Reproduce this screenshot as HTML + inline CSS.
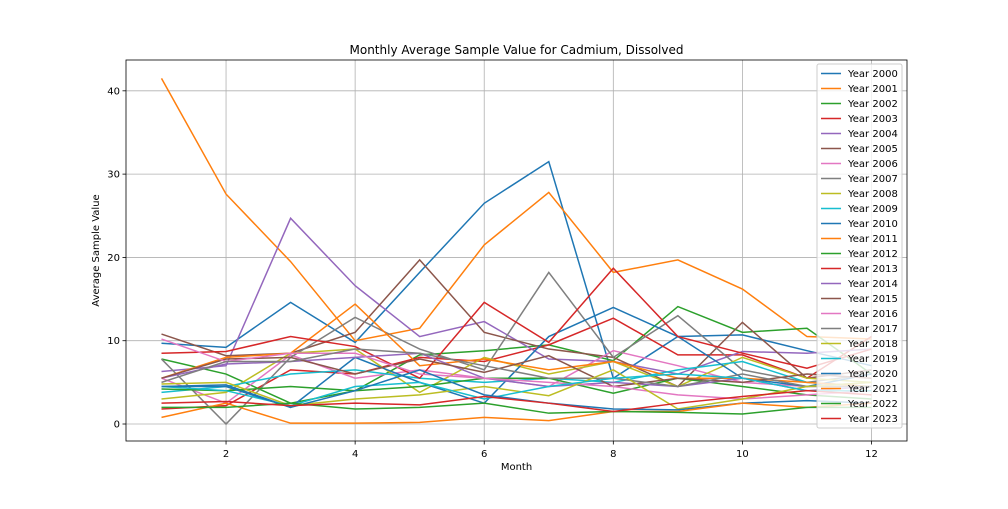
<!DOCTYPE html>
<html><head><meta charset="utf-8"><style>
body{margin:0;background:#fff;font-family:"Liberation Sans","DejaVu Sans",sans-serif}
svg text{font-family:"DejaVu Sans","Liberation Sans",sans-serif}
</style></head><body>
<svg id="c" width="1008" height="504"></svg>
<script>
const months=[1,2,3,4,5,6,7,8,9,10,11,12];
const years=["Year 2000","Year 2001","Year 2002","Year 2003","Year 2004","Year 2005","Year 2006","Year 2007","Year 2008","Year 2009","Year 2010","Year 2011","Year 2012","Year 2013","Year 2014","Year 2015","Year 2016","Year 2017","Year 2018","Year 2019","Year 2020","Year 2021","Year 2022","Year 2023"];
const s2000=[9.7,9.2,14.6,9.8,18.2,26.5,31.5,5.5,10.5,10.7,8.8,7.0];
const s2001=[41.5,27.6,19.5,10.0,11.5,21.5,27.8,18.2,19.7,16.2,10.5,10.2];
const s2002=[7.8,6.0,2.5,4.0,8.3,8.8,9.5,7.6,14.1,11.0,11.5,6.0];
const s2003=[1.8,2.2,6.5,6.0,8.0,7.5,9.5,12.7,8.3,8.3,5.5,10.5];
const s2004=[6.3,7.0,24.7,16.6,10.5,12.3,7.8,7.5,6.0,8.7,8.5,9.0];
const s2005=[10.8,8.2,8.5,11.0,19.7,11.0,9.0,8.0,4.5,12.2,5.5,6.5];
const s2006=[5.5,2.5,8.3,5.5,6.5,5.5,4.5,8.8,7.0,5.0,4.5,5.0];
const s2007=[7.8,0.0,8.0,12.8,9.0,6.5,18.2,8.0,13.0,6.5,5.0,6.0];
const s2008=[3.0,3.8,8.5,9.0,3.8,8.0,6.0,7.5,4.5,8.0,5.5,5.0];
const s2009=[3.8,4.5,6.0,6.5,5.5,5.0,5.5,5.0,6.5,7.5,5.0,4.5];
const s2010=[4.5,4.7,2.0,8.0,5.0,2.5,10.5,14.0,10.5,5.5,4.5,6.0];
const s2011=[5.5,8.0,8.5,14.4,7.0,7.8,6.5,7.5,5.5,5.5,5.0,4.5];
const s2012=[4.2,4.0,4.5,4.0,4.5,5.5,5.5,3.7,5.5,4.5,3.5,3.0];
const s2013=[8.5,8.7,10.5,9.3,5.5,14.6,9.8,18.7,10.5,8.5,6.7,9.0];
const s2014=[5.5,7.2,7.5,8.0,8.5,5.5,4.5,5.0,4.5,5.5,4.0,4.5];
const s2015=[5.5,7.8,8.0,6.0,7.8,6.2,8.2,4.5,5.5,5.0,6.0,5.5];
const s2016=[10.2,7.5,8.5,8.5,6.0,5.5,5.0,4.5,3.5,3.0,3.5,4.0];
const s2017=[5.0,7.5,7.5,9.0,8.5,7.0,5.5,5.5,4.5,6.0,4.5,4.5];
const s2018=[4.8,5.0,2.2,3.0,3.5,4.5,3.4,6.5,1.8,3.0,4.5,5.0];
const s2019=[4.5,4.0,2.2,4.5,5.0,3.0,4.5,5.5,6.0,5.5,4.0,4.0];
const s2020=[4.5,4.5,2.0,4.0,6.5,3.5,2.5,1.8,1.7,2.5,2.8,2.5];
const s2021=[0.8,2.5,0.1,0.1,0.2,0.8,0.4,1.5,1.5,2.5,2.0,2.5];
const s2022=[2.0,2.0,2.5,1.8,2.0,2.5,1.3,1.5,1.4,1.2,2.0,2.0];
const s2023=[2.5,2.7,2.2,2.5,2.3,3.3,2.5,1.5,2.5,3.3,4.0,3.5];
const series=[s2000,s2001,s2002,s2003,s2004,s2005,s2006,s2007,s2008,s2009,s2010,s2011,s2012,s2013,s2014,s2015,s2016,s2017,s2018,s2019,s2020,s2021,s2022,s2023];
const xTicks=[2,4,6,8,10,12];
const yTicks=[0,10,20,30,40];
const palette=["#1f77b4","#ff7f0e","#2ca02c","#d62728","#9467bd","#8c564b","#e377c2","#7f7f7f","#bcbd22","#17becf"];

const L=126,R=907,T=60,B=441;
const xMin=0.45,xMax=12.55,yMin=-2.04,yMax=43.7;
const X=v=>L+(v-xMin)/(xMax-xMin)*(R-L);
const Y=v=>B-(v-yMin)/(yMax-yMin)*(B-T);
const svg=document.getElementById('c');
const NS="http://www.w3.org/2000/svg";
function mk(t,a,p){const e=document.createElementNS(NS,t);for(const k in a)e.setAttribute(k,a[k]);(p||svg).appendChild(e);return e;}

const grid=mk('g',{});


xTicks.forEach(t=>{
  const l=mk('line',{x1:X(t),x2:X(t),y1:T,y2:B,stroke:'#b0b0b0','stroke-width':0.8},grid);
  
  
  const tk=mk('line',{x1:X(t),x2:X(t),y1:B,y2:B+3.5,stroke:'#000','stroke-width':0.8});
  
  
  const tx=mk('text',{x:X(t),y:B+16,'font-size':10,'text-anchor':'middle'});
  tx.textContent=t;
  
  
});
yTicks.forEach(t=>{
  const l=mk('line',{x1:L,x2:R,y1:Y(t),y2:Y(t),stroke:'#b0b0b0','stroke-width':0.8},grid);
  
  
  const tk=mk('line',{x1:L-3.5,x2:L,y1:Y(t),y2:Y(t),stroke:'#000','stroke-width':0.8});
  
  
  const tx=mk('text',{x:L-6,y:Y(t)+3.5,'font-size':10,'text-anchor':'end'});
  tx.textContent=t;
  
  
});
series.forEach((s,i)=>{
  const p=mk('polyline',{points:s.map((v,j)=>X(months[j])+','+Y(v)).join(' '),fill:'none',stroke:palette[i%10],'stroke-width':1.5});
  
  
});
const frame=mk('rect',{x:L,y:T,width:R-L,height:B-T,fill:'none',stroke:'#000','stroke-width':0.8});


const title=mk('text',{x:(L+R)/2,y:54,'font-size':12,'text-anchor':'middle'});
title.textContent='Monthly Average Sample Value for Cadmium, Dissolved';


const xl=mk('text',{x:(L+R)/2,y:470,'font-size':10,'text-anchor':'middle'});
xl.textContent='Month';


const yl=mk('text',{x:0,y:0,'font-size':10,'text-anchor':'middle',transform:`translate(99,${(T+B)/2}) rotate(-90)`});
yl.textContent='Average Sample Value';



const lg=mk('g',{});


mk('rect',{x:817,y:64,width:85,height:364,fill:'#fff','fill-opacity':0.8,stroke:'#ccc',rx:2},lg);
years.forEach((y,i)=>{
  const cy=73.5+i*15;
  const e=mk('g',{},lg);
  
  
  mk('line',{x1:821,x2:841,y1:cy,y2:cy,stroke:palette[i%10],'stroke-width':1.5},e);
  const t=mk('text',{x:848,y:cy+3.5,'font-size':10},e);
  t.textContent=y;
});
</script>
</body></html>
